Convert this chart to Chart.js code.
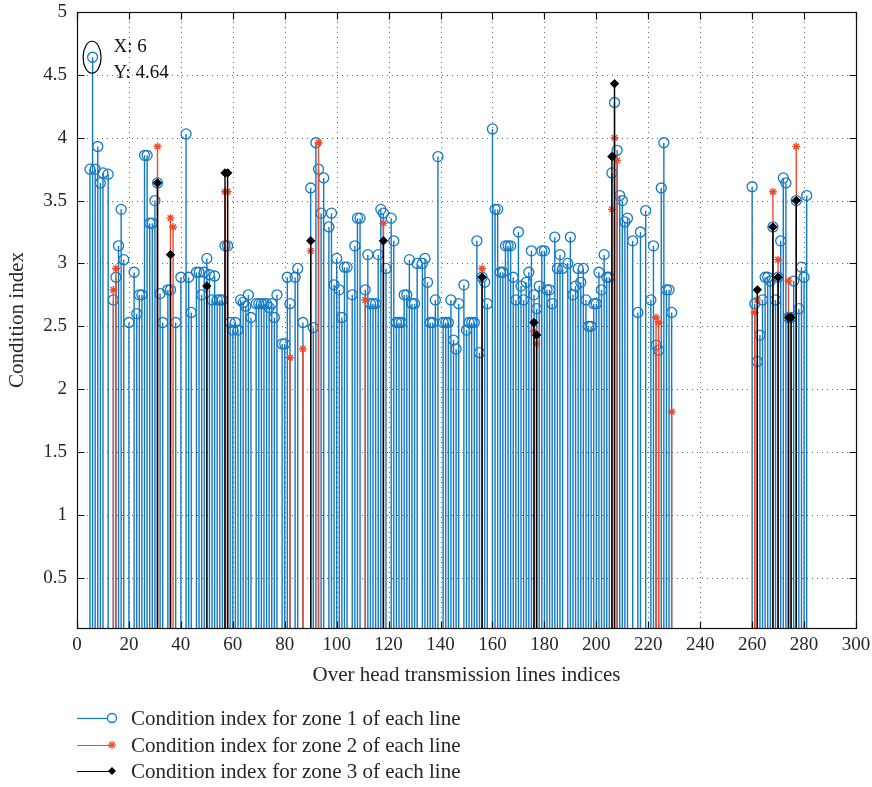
<!DOCTYPE html>
<html>
<head>
<meta charset="utf-8">
<script src="https://cdn.jsdelivr.net/npm/chart.js@4.4.1/dist/chart.umd.min.js"></script>
<style>
  html, body { margin: 0; padding: 0; background: #fff; }
  #wrap { position: relative; width: 872px; height: 787px; }
  #c { position: absolute; left: 0; top: 0; }
  .leg { position: absolute; left: 77px; height: 26px; line-height: 26px; font-family: "Liberation Serif", serif; font-size: 21px; color: #262626; white-space: nowrap; }
  .leg svg { position: absolute; left: 0; top: 0; }
  .leg span { position: absolute; left: 54px; top: 0; }
</style>
</head>
<body>
<div id="wrap">
  <canvas id="c" width="872" height="787"></canvas>
  <div id="legend"></div>
</div>
<script>
// ---- data ----
const xTicks = [0, 20, 40, 60, 80, 100, 120, 140, 160, 180, 200, 220, 240, 260, 280, 300];
const yTicks = [0.5, 1, 1.5, 2, 2.5, 3, 3.5, 4, 4.5, 5];

const zone1Index = [
  5,6,7,8,9,10,12,14,15,16,
  17,18,20,22,23,24,25,26,27,28,
  29,30,31,32,33,35,36,38,40,42,
  43,44,46,47,48,49,50,51,52,53,
  54,55,56,57,58,59,60,61,62,63,
  64,65,66,67,69,70,71,72,73,74,
  75,76,77,79,80,81,82,84,85,87,
  90,91,92,93,94,95,97,98,99,100,
  101,102,103,104,106,107,108,109,111,112,
  113,114,115,116,117,118,119,121,122,123,
  124,125,126,127,128,129,130,131,133,134,
  135,136,137,138,139,141,142,143,144,145,
  146,147,149,150,151,152,153,154,155,156,
  157,158,160,161,162,163,164,165,166,167,
  168,169,170,171,172,173,174,175,176,177,
  178,179,180,181,182,183,184,185,186,187,
  189,190,191,192,193,194,195,196,197,198,
  199,200,201,202,203,204,205,206,207,208,
  209,210,211,212,214,216,217,219,221,222,
  223,224,225,226,227,228,229,
  260,261,262,263,264,265,266,267,268,269,
  270,271,272,273,274,275,276,277,278,279,
  280,281
];
const zone1Value = [
  3.75,4.64,3.75,3.93,3.64,3.72,3.71,2.71,2.89,3.14,
  3.43,3.03,2.53,2.93,2.60,2.75,2.75,3.86,3.86,3.32,
  3.32,3.50,3.64,2.76,2.53,2.79,2.79,2.53,2.89,4.03,
  2.89,2.61,2.93,2.93,2.75,2.93,3.04,2.91,2.71,2.90,
  2.71,2.71,2.71,3.14,3.14,2.53,2.47,2.53,2.47,2.71,
  2.69,2.66,2.75,2.57,2.68,2.68,2.68,2.68,2.68,2.65,
  2.68,2.57,2.75,2.36,2.36,2.89,2.68,2.89,2.96,2.53,
  3.60,2.49,3.96,3.75,3.40,3.68,3.29,3.40,2.83,3.04,
  2.79,2.57,2.97,2.97,2.75,3.14,3.36,3.36,2.79,3.07,
  2.68,2.68,2.68,3.07,3.43,3.40,2.96,3.36,3.18,2.53,
  2.53,2.53,2.75,2.75,3.03,2.68,2.68,3.00,3.00,3.04,
  2.85,2.53,2.53,2.71,3.85,2.53,2.53,2.53,2.71,2.39,
  2.32,2.68,2.83,2.47,2.53,2.53,2.53,3.18,2.29,2.89,
  2.85,2.68,4.07,3.43,3.43,2.93,2.93,3.14,3.14,3.14,
  2.89,2.71,3.25,2.82,2.71,2.85,2.93,3.10,2.75,2.64,
  2.82,3.10,3.10,2.79,2.79,2.68,3.21,2.96,3.07,2.96,
  3.00,3.21,2.75,2.82,2.96,2.85,2.96,2.71,2.50,2.50,
  2.68,2.68,2.93,2.79,3.07,2.89,2.89,3.72,4.28,3.90,
  3.54,3.50,3.33,3.36,3.18,2.61,3.25,3.42,2.71,3.14,
  2.35,2.31,3.60,3.96,2.79,2.79,2.61,
  3.61,2.68,2.22,2.43,2.71,2.89,2.89,2.86,3.29,2.71,
  2.89,3.18,3.68,3.64,2.57,2.57,2.86,3.50,2.64,2.97,
  2.89,3.54
];

const zone2Index = [14,15,31,36,37,57,58,82,87,90,93,111,118,156,176,177,206,207,208,223,224,229,261,262,268,270,274,277];
const zone2Value = [2.79,2.96,3.93,3.36,3.29,3.57,3.57,2.25,2.32,3.10,3.96,2.71,3.32,2.96,2.46,2.36,3.43,4.00,3.82,2.57,2.53,1.82,2.61,2.71,3.57,3.03,2.86,3.93];

const zone3Index = [31,36,50,57,58,90,118,156,176,177,206,207,262,268,270,274,275,277];
const zone3Value = [3.64,3.07,2.82,3.72,3.72,3.18,3.18,2.89,2.53,2.43,3.85,4.43,2.79,3.29,2.89,2.57,2.57,3.50];

const seriesLabels = [
  'Condition index for zone 1 of each line',
  'Condition index for zone 2 of each line',
  'Condition index for zone 3 of each line'
];
const datatipIndex = 6;

// ---- styles ----
const BLUE = '#1479c4';
const RED = '#ef4a2a';
const BLACK = '#000000';
const FONT = '"Liberation Serif", "Times New Roman", serif';
const TXT = '#262626';

function pts(ix, vals) { return ix.map((x, i) => ({ x: x, y: vals[i] })); }

const stemPlugin = {
  id: 'stems',
  beforeDatasetDraw(chart, args) {
    const meta = args.meta;
    const ds = chart.data.datasets[args.index];
    const area = chart.chartArea;
    const yBase = chart.scales.y.getPixelForValue(0);
    const ctx = chart.ctx;
    ctx.save();
    ctx.beginPath();
    ctx.rect(area.left, area.top, area.right - area.left, area.bottom - area.top);
    ctx.clip();
    ctx.strokeStyle = ds.stemColor;
    ctx.lineWidth = 1.4;
    ctx.beginPath();
    meta.data.forEach(el => {
      ctx.moveTo(el.x, el.y);
      ctx.lineTo(el.x, yBase);
    });
    ctx.stroke();
    ctx.restore();
  }
};

const framePlugin = {
  id: 'frame',
  beforeDatasetsDraw(chart) {
    const ctx = chart.ctx, a = chart.chartArea;
    const xs = chart.scales.x, ys = chart.scales.y;
    ctx.save();
    ctx.strokeStyle = 'rgba(50,50,50,0.75)';
    ctx.lineWidth = 1;
    ctx.setLineDash([1, 4]);
    xTicks.forEach(v => {
      const px = Math.round(xs.getPixelForValue(v)) + 0.5;
      if (px <= a.left + 1 || px >= a.right - 1) return;
      ctx.beginPath(); ctx.moveTo(px, a.bottom); ctx.lineTo(px, a.top); ctx.stroke();
    });
    yTicks.forEach(v => {
      const py = Math.round(ys.getPixelForValue(v)) + 0.5;
      if (py <= a.top + 1 || py >= a.bottom - 1) return;
      ctx.beginPath(); ctx.moveTo(a.left, py); ctx.lineTo(a.right, py); ctx.stroke();
    });
    ctx.restore();
  },
  afterDatasetsDraw(chart) {
    const ctx = chart.ctx, a = chart.chartArea;
    const xs = chart.scales.x, ys = chart.scales.y;
    const L = Math.round(a.left) + 0.5, R = Math.round(a.right) + 0.5;
    const T = Math.round(a.top) + 0.5, B = Math.round(a.bottom) + 0.5;
    ctx.save();
    ctx.strokeStyle = '#111';
    ctx.lineWidth = 1.2;
    ctx.strokeRect(L, T, R - L, B - T);
    const tl = 7;
    ctx.beginPath();
    xTicks.forEach(v => {
      const px = Math.round(xs.getPixelForValue(v)) + 0.5;
      ctx.moveTo(px, B); ctx.lineTo(px, B - tl);
      ctx.moveTo(px, T); ctx.lineTo(px, T + tl);
    });
    yTicks.forEach(v => {
      const py = Math.round(ys.getPixelForValue(v)) + 0.5;
      ctx.moveTo(L, py); ctx.lineTo(L + tl, py);
      ctx.moveTo(R, py); ctx.lineTo(R - tl, py);
    });
    ctx.stroke();

    // data tip
    const k = zone1Index.indexOf(datatipIndex);
    const val = zone1Value[k];
    const px = xs.getPixelForValue(datatipIndex);
    const py = ys.getPixelForValue(val);
    ctx.strokeStyle = '#000';
    ctx.lineWidth = 1.2;
    ctx.beginPath();
    ctx.ellipse(px - 0.5, py, 9, 16, 0, 0, Math.PI * 2);
    ctx.stroke();
    ctx.fillStyle = '#111';
    ctx.font = '19px ' + FONT;
    ctx.textAlign = 'left';
    ctx.textBaseline = 'middle';
    ctx.fillText('X: ' + datatipIndex, px + 21, py - 10);
    ctx.fillText('Y: ' + val.toFixed(2), px + 21, py + 16);
    ctx.restore();
  }
};

const chart = new Chart(document.getElementById('c'), {
  type: 'scatter',
  data: {
    datasets: [
      {
        label: seriesLabels[0], data: pts(zone1Index, zone1Value), order: 3,
        stemColor: BLUE, borderColor: BLUE, backgroundColor: 'rgba(0,0,0,0)',
        pointStyle: 'circle', pointRadius: 5, pointBorderWidth: 1.3, showLine: false
      },
      {
        label: seriesLabels[1], data: pts(zone2Index, zone2Value), order: 2,
        stemColor: RED, borderColor: RED, backgroundColor: RED,
        pointStyle: 'star', pointRadius: 4, pointBorderWidth: 1.4, showLine: false
      },
      {
        label: seriesLabels[2], data: pts(zone3Index, zone3Value), order: 1,
        stemColor: BLACK, borderColor: BLACK, backgroundColor: BLACK,
        pointStyle: 'rectRot', pointRadius: 4.2, pointBorderWidth: 1, showLine: false
      }
    ]
  },
  options: {
    responsive: false,
    animation: false,
    events: [],
    layout: { padding: { left: 0, right: 16, top: 12, bottom: 99 } },
    plugins: { legend: { display: false }, tooltip: { enabled: false } },
    scales: {
      x: {
        type: 'linear', min: 0, max: 300,
        afterFit(s) { s.height = 60; s.paddingLeft = 0; s.paddingRight = 0; },
        afterBuildTicks(s) { s.ticks = xTicks.map(v => ({ value: v })); },
        grid: { display: false, drawTicks: false },
        border: { display: false },
        ticks: { padding: 6, color: TXT, font: { family: FONT, size: 19 }, maxRotation: 0, autoSkip: false },
        title: { display: true, text: 'Over head transmission lines indices', color: TXT,
                 font: { family: FONT, size: 21 }, padding: { top: 0, bottom: 0 } }
      },
      y: {
        type: 'linear', min: 0.1, max: 5,
        afterFit(s) { s.width = 77; s.paddingTop = 0; s.paddingBottom = 0; },
        afterBuildTicks(s) { s.ticks = yTicks.map(v => ({ value: v })); },
        grid: { display: false, drawTicks: false },
        border: { display: false },
        ticks: { padding: 10, color: TXT, font: { family: FONT, size: 19 }, autoSkip: false,
                 callback: v => String(v) },
        title: { display: true, text: 'Condition index', color: TXT,
                 font: { family: FONT, size: 21 }, padding: { top: 5, bottom: 0 } }
      }
    }
  },
  plugins: [stemPlugin, framePlugin]
});

// ---- HTML legend built from the chart's datasets ----
(function buildLegend() {
  const host = document.getElementById('legend');
  const rowsY = [718, 745, 771];
  chart.data.datasets.forEach((ds, i) => {
    const row = document.createElement('div');
    row.className = 'leg';
    row.style.top = (rowsY[i] - 13) + 'px';
    let marker = '';
    const c = ds.borderColor;
    if (ds.pointStyle === 'circle') {
      marker = `<circle cx="35" cy="13" r="4.5" fill="none" stroke="${c}" stroke-width="1.3"/>`;
    } else if (ds.pointStyle === 'star') {
      marker = `<g stroke="${c}" stroke-width="1.3"><line x1="31" y1="13" x2="39" y2="13"/><line x1="35" y1="9" x2="35" y2="17"/><line x1="32.2" y1="10.2" x2="37.8" y2="15.8"/><line x1="37.8" y1="10.2" x2="32.2" y2="15.8"/></g>`;
    } else {
      marker = `<polygon points="35,9 39,13 35,17 31,13" fill="${c}"/>`;
    }
    const lineEnd = ds.pointStyle === 'circle' ? 30.5 : 35;
    row.innerHTML = `<svg width="50" height="26"><line x1="0" y1="13.5" x2="${lineEnd}" y2="13.5" stroke="${c}" stroke-width="1.2"/>${marker}</svg><span>${ds.label}</span>`;
    host.appendChild(row);
  });
})();
</script>
</body>
</html>
